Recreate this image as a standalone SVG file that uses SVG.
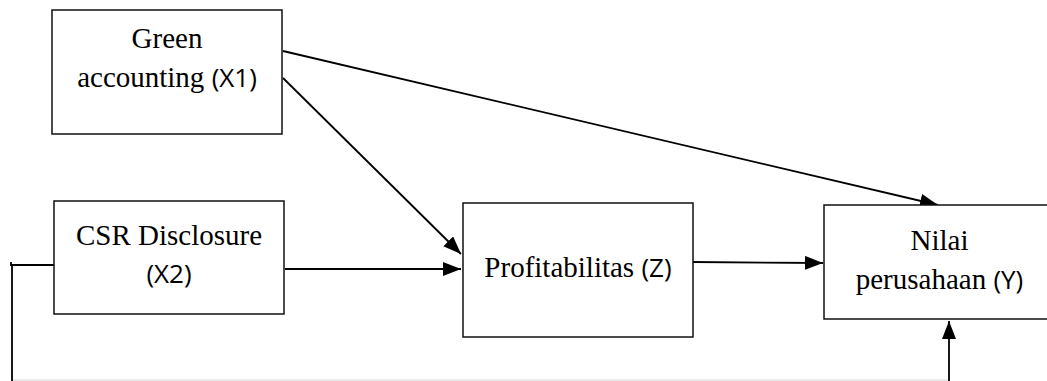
<svg xmlns="http://www.w3.org/2000/svg" width="1047" height="381" viewBox="0 0 1047 381">
<style>
.box{fill:#fff;stroke:#111;stroke-width:1.5}
.t{font-family:"Liberation Serif","Times New Roman",serif;font-size:29px;fill:#000}
.s{font-family:"Open Sans","Noto Sans",sans-serif;font-size:26px}
.ln{stroke:#000;stroke-width:1.8;fill:none}
</style>
<defs>
<marker id="ah" markerUnits="userSpaceOnUse" markerWidth="18" markerHeight="14" refX="18" refY="7" orient="auto">
<path d="M0,0 L18,7 L0,14 z" fill="#000"/>
</marker>
</defs>
<rect width="1047" height="381" fill="#fff"/>
<g id="connectors">
<line class="ln" x1="283" y1="51" x2="938" y2="205" marker-end="url(#ah)"/>
<line class="ln" x1="283" y1="78" x2="461" y2="254" marker-end="url(#ah)"/>
<line class="ln" x1="285" y1="269" x2="461" y2="269" marker-end="url(#ah)"/>
<line class="ln" x1="693" y1="262" x2="823" y2="263" marker-end="url(#ah)"/>
<polyline class="ln" points="54,265 12,265 12,381"/>
<line class="ln" x1="11" y1="262" x2="11" y2="266"/>
<line x1="13" y1="380" x2="949" y2="380" stroke="#e3e3e3" stroke-width="1.5"/>
<line class="ln" x1="949" y1="381" x2="949" y2="321" marker-end="url(#ah)"/>
</g>
<g id="node-x1">
<rect class="box" x="52" y="10" width="230" height="124"/>
<text class="t" x="167" y="48" text-anchor="middle">Green</text>
<text class="t" x="167" y="87" text-anchor="middle">accounting <tspan class="s">(X1)</tspan></text>
</g>
<g id="node-x2">
<rect class="box" x="54" y="201" width="230" height="113"/>
<text class="t" x="169" y="245" text-anchor="middle">CSR Disclosure</text>
<text class="t" x="169" y="283" text-anchor="middle"><tspan class="s">(X2)</tspan></text>
</g>
<g id="node-z">
<rect class="box" x="463" y="203" width="230" height="134"/>
<text class="t" x="578" y="277" text-anchor="middle">Profitabilitas <tspan class="s">(Z)</tspan></text>
</g>
<g id="node-y">
<rect class="box" x="824" y="205" width="232" height="114"/>
<text class="t" x="939.5" y="250" text-anchor="middle">Nilai</text>
<text class="t" x="939.5" y="289" text-anchor="middle">perusahaan <tspan class="s">(Y)</tspan></text>
</g>
</svg>
